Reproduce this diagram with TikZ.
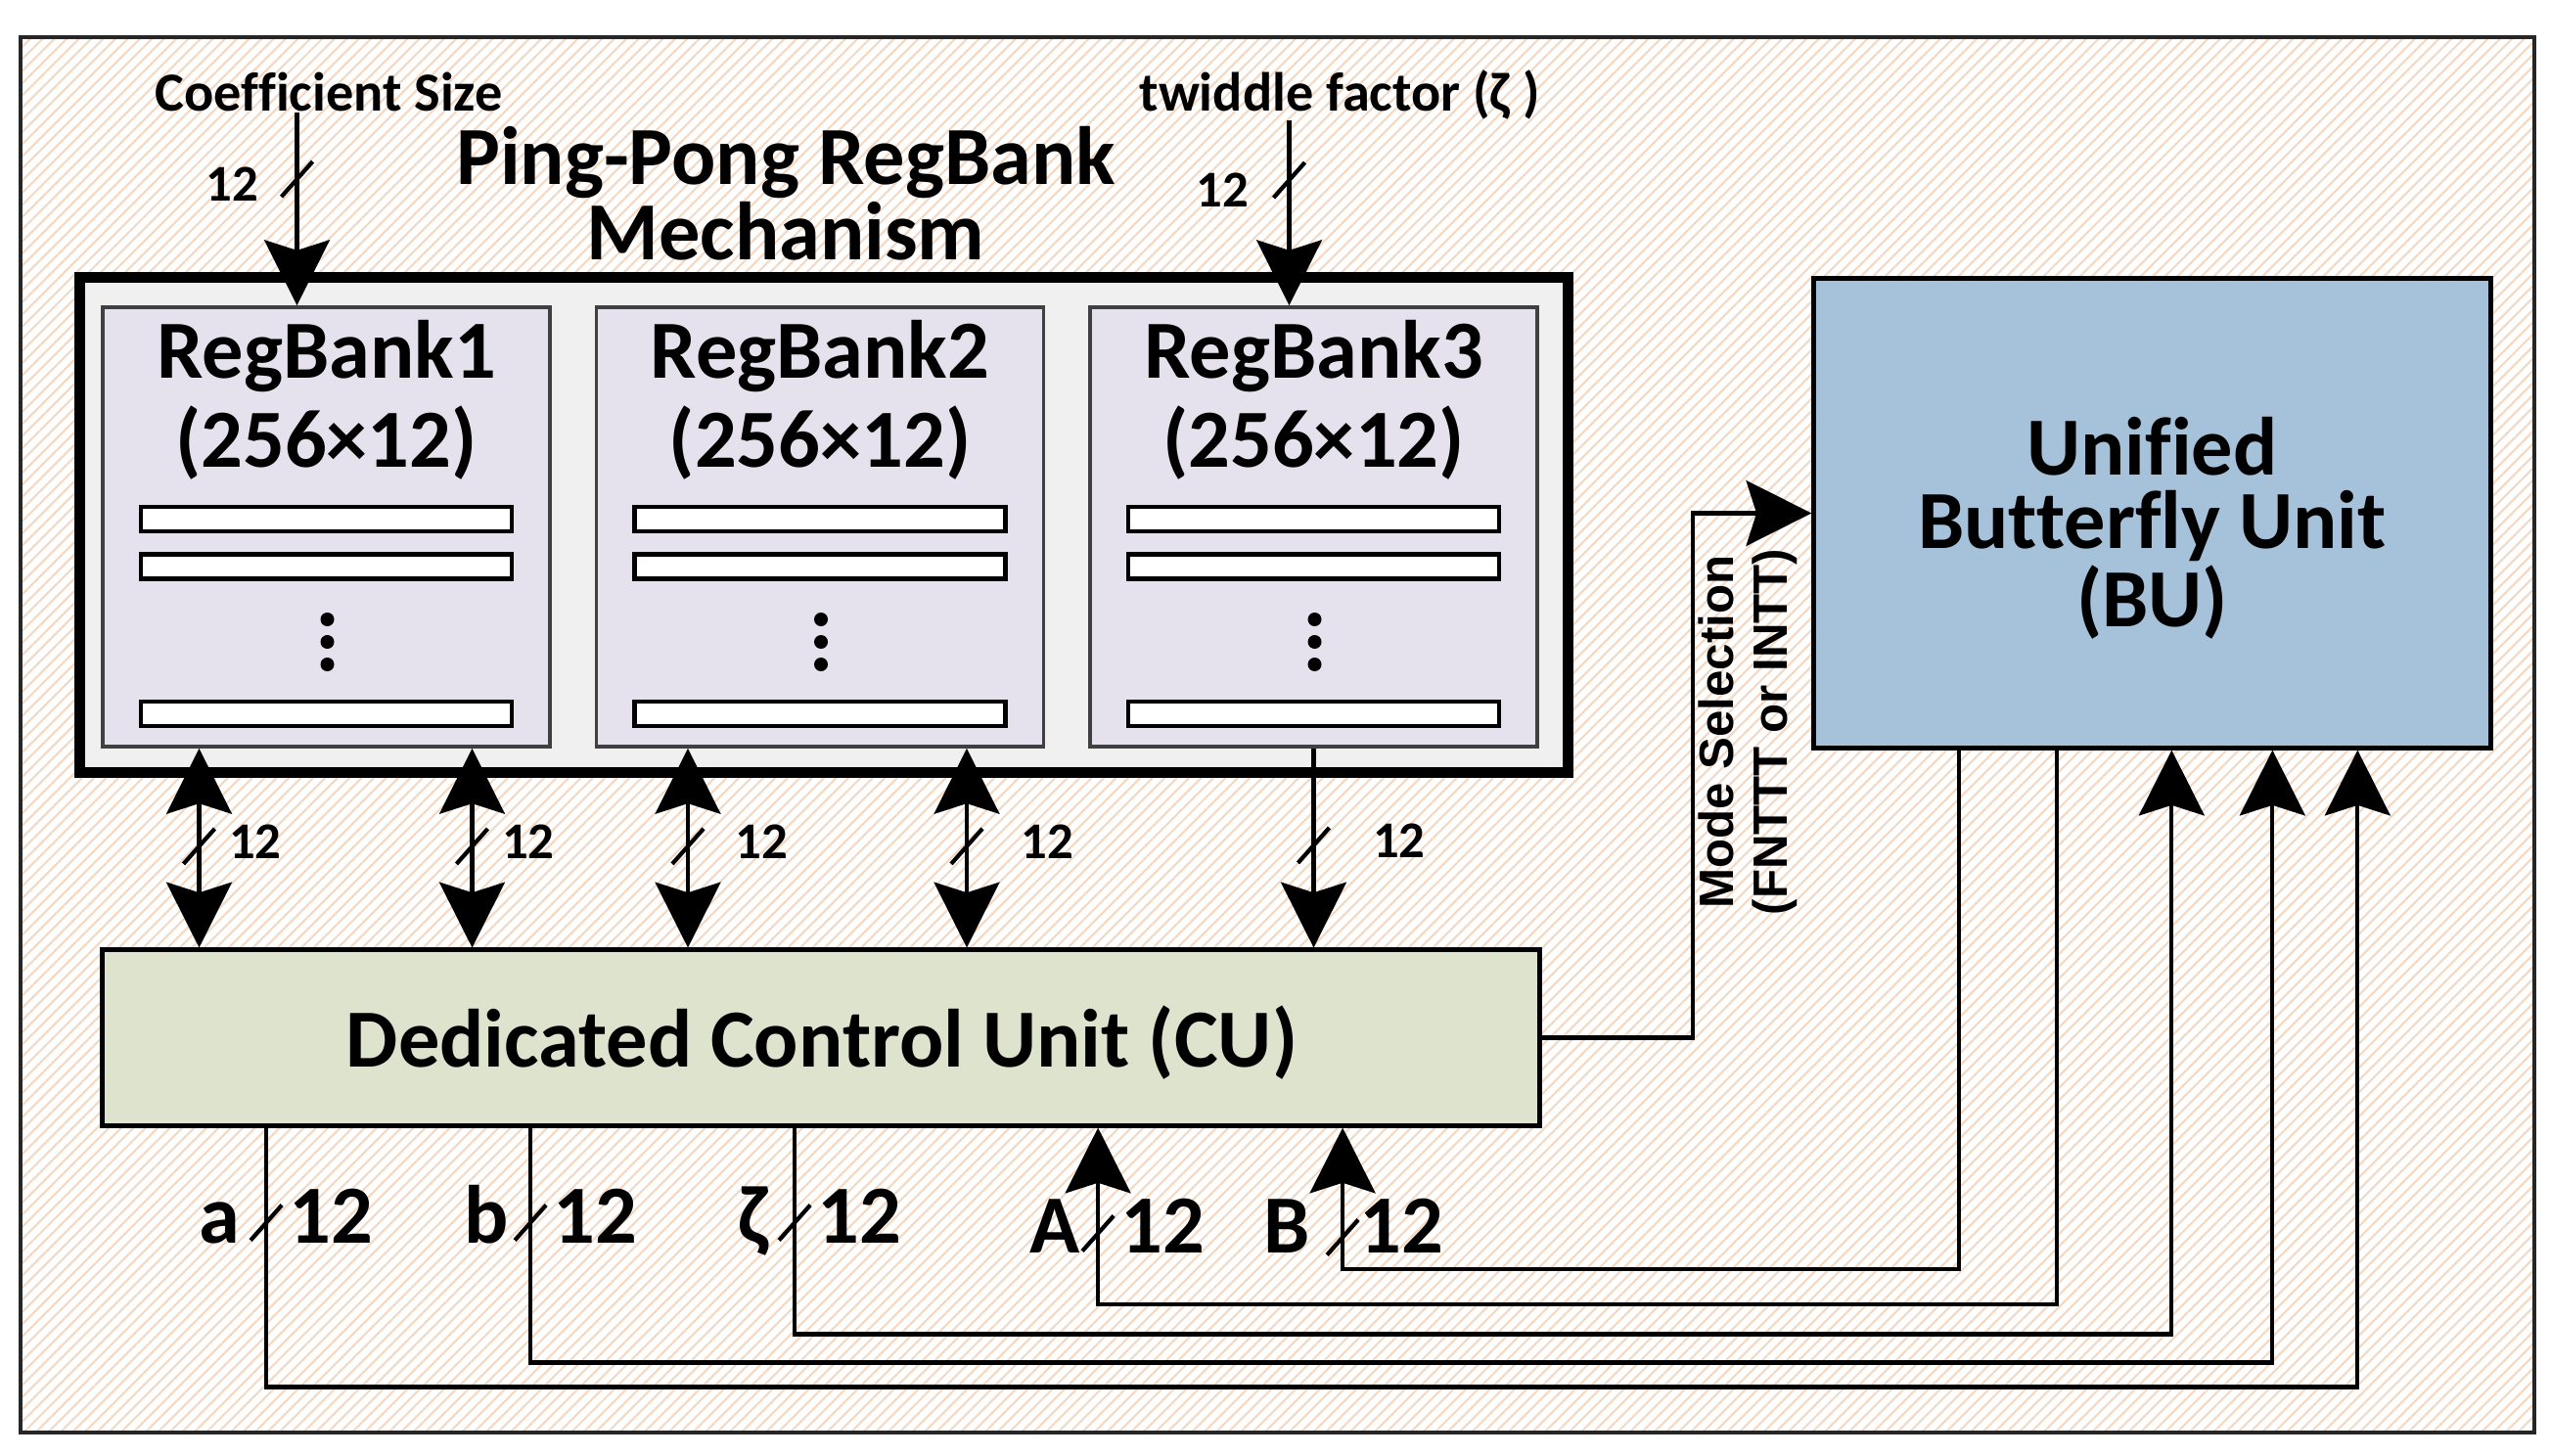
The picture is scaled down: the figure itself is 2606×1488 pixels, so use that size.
\documentclass[tikz,border=0pt]{standalone}
\usepackage{fontspec}
\setmainfont{Carlito}[Ligatures=NoCommon]
\newfontfamily\modefont{Liberation Sans}
\usetikzlibrary{arrows.meta, patterns.meta, calc, positioning}
\definecolor{hatch}{RGB}{244,216,194}
\definecolor{holdfill}{RGB}{240,240,240}
\definecolor{bankfill}{RGB}{229,226,238}
\definecolor{cufill}{RGB}{222,227,205}
\definecolor{bufill}{RGB}{165,194,218}
\newcommand{\busslash}[1]{
	\draw[line width=1.2pt] (#1) ++(-16,18) -- ++(32,-36);
}

\begin{document}
\begin{tikzpicture}[x=0.01cm, y=-0.01cm,
		>={Stealth[length=19pt, width=19pt, inset=3pt]},
		bus/.style={line width=1.2pt},
		hold/.style={draw, line width=3.2pt, fill=holdfill, minimum width=15.2cm, minimum height=5.05cm},
		bank/.style={draw=black!75, line width=1pt, fill=bankfill, minimum width=4.57cm, minimum height=4.49cm},
		slot/.style={draw, line width=1.2pt, fill=white},
		banktitle/.style={font=\fontsize{24}{26}\selectfont\bfseries, inner sep=0pt, align=center},
		title/.style={font=\fontsize{24}{22}\selectfont\bfseries, inner sep=0pt, align=center},
		unit/.style={draw, line width=1.4pt, inner sep=0pt},
		unittext/.style={inner sep=0pt, align=center, font=\fontsize{24}{21.5}\selectfont\bfseries},
		toplbl/.style={font=\fontsize{16}{18}\selectfont\bfseries, inner sep=0pt},
		buslbl/.style={font=\fontsize{15}{17}\selectfont\bfseries, inner sep=0pt},
		lbl/.style={font=\fontsize{24}{26}\selectfont\bfseries, inner sep=0pt},
		modelbl/.style={font=\fontsize{14}{15.5}\selectfont\modefont\bfseries, inner sep=0pt, align=center}]
	\useasboundingbox (0,0) rectangle (2606,1488);
	% hatched frame
	\draw[line width=1pt, draw=black!85, pattern={Lines[angle=45, distance=2.5pt, line width=0.6pt]}, pattern color=hatch]
		(21,38) rectangle (2590,1464);

	% ping-pong register banks
	\node[hold] (hold) at (842,536.5) {};
	\foreach \i in {1,2,3} {
		\node[bank] (rb\i) at ({333.5+504.5*(\i-1)}, 538.5) {};
		\node[banktitle, anchor=north] (rb\i t) at ($(rb\i.north)+(0,14)$) {RegBank\i\\(256×12)};
		\foreach \dy in {-8, 40.5, 191}
			\draw[slot] ($(rb\i.center)+(-189.5,\dy-12.5)$) rectangle ++(379,25);
		\foreach \dy in {94.5, 117.5, 140.5}
			\fill ($(rb\i.center)+(1,\dy)$) circle (7);
	}
	\node[title] (ttl) at (803,198) {Ping-Pong RegBank\\Mechanism};

	% inputs on top
	\node[toplbl, anchor=base] (coef) at (336,114) {Coefficient Size};
	\node[toplbl, anchor=base] (twid) at (1369,114) {twiddle factor (ζ )};
	\coordinate (cin) at ($(rb1.north)+(-30,0)$);
	\coordinate (tin) at ($(rb3.north)+(-25,0)$);
	\draw[bus,->] (cin |- coef.south) -- (cin);
	\draw[bus,->] (tin |- twid.south) -- (tin);
	\busslash{$(cin)+(0,-129)$}
	\busslash{$(tin)+(0,-128)$}
	\node[buslbl, anchor=east] (cw) at ($(cin)+(-39,-124)$) {12};
	\node[buslbl, anchor=east] (tw) at ($(tin)+(-41,-118)$) {12};

	% control unit and butterfly unit
	\node[unit, fill=cufill, minimum width=14.68cm, minimum height=1.79cm] (cu) at (839,1060.5) {};
	\node[unittext] (cutext) at ($(cu.center)+(1,5)$) {Dedicated Control Unit (CU)};
	\node[unit, fill=bufill, minimum width=6.91cm, minimum height=4.79cm] (bu) at (2199.5,524.5) {};
	\node[unittext] (butext) at ($(bu.center)+(0,15)$) {Unified\\Butterfly Unit\\(BU)};

	% banks <-> control unit
	\foreach \b/\dx/\lx/\k in {rb1/-130/30/1, rb1/149/30/2, rb2/-135/48/3, rb2/150/55/4} {
		\coordinate (d\k) at ($(\b.south)+(\dx,0)$);
		\draw[bus,<->] (d\k) -- (d\k |- cu.north);
		\busslash{$(d\k)+(0,100)$}
		\node[buslbl, anchor=west] (w\k) at ($(d\k)+(\lx,95)$) {12};
	}
	\draw[bus,->] (rb3.south) -- (rb3.south |- cu.north);
	\busslash{$(rb3.south)+(0,99)$}
	\node[buslbl, anchor=west] (w5) at ($(rb3.south)+(60,94)$) {12};

	% mode selection
	\draw[bus,->] (cu.east) -| ($(bu.west)+(-121,0)$) -- (bu.west);
	\node[modelbl, rotate=90] (mode) at (1786,748) {Mode Selection\\(FNTTT or INTT)};

	% operands to the butterfly unit
	\draw[bus,->] ($(cu.south west)+(170,0)$) coordinate (ao) -- ++(0,265) -| ($(bu.south west)+(558,0)$);
	\draw[bus,->] ($(cu.south west)+(440,0)$) coordinate (bo) -- ++(0,240) -| ($(bu.south west)+(471,0)$);
	\draw[bus,->] ($(cu.south west)+(710,0)$) coordinate (zo) -- ++(0,211) -| ($(bu.south west)+(368,0)$);
	% results back to the control unit
	\draw[bus,->] ($(bu.south west)+(251,0)$) -- ++(0,566) -| ($(cu.south west)+(1020,0)$) coordinate (ai);
	\draw[bus,->] ($(bu.south west)+(151,0)$) -- ++(0,530) -| ($(cu.south west)+(1270,0)$) coordinate (bi);

	% bus labels
	\foreach \c/\t/\lx in {ao/a/-26, bo/b/-22, zo/ζ/-26} {
		\busslash{$(\c)+(0,97)$}
		\node[lbl, anchor=base east] (\c l) at ($(\c)+(\lx,118)$) {\t};
		\node[lbl, anchor=base west] (\c w) at ($(\c)+(23,118)$) {12};
	}
	\busslash{$(ai)+(0,108)$}
	\node[lbl, anchor=base east] (ail) at ($(ai)+(-18,128)$) {A};
	\node[lbl, anchor=base west] (aiw) at ($(ai)+(23,128)$) {12};
	\busslash{$(bi)+(0,112)$}
	\node[lbl, anchor=base east] (bil) at ($(bi)+(-33,128)$) {B};
	\node[lbl, anchor=base west] (biw) at ($(bi)+(17,128)$) {12};
\end{tikzpicture}
\end{document}
